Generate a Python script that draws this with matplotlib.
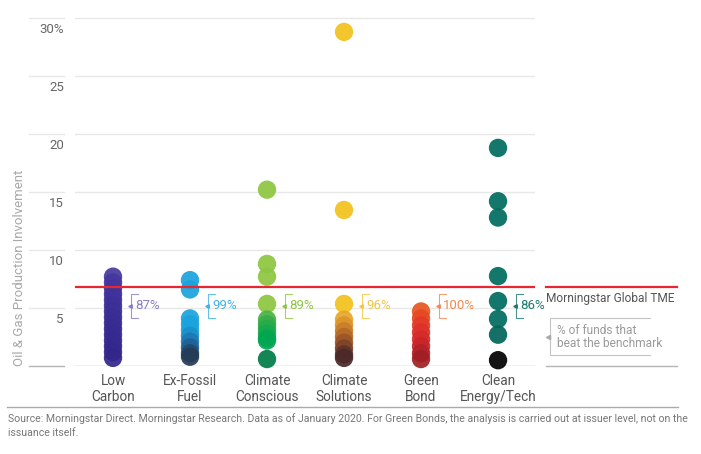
import matplotlib.pyplot as plt
import numpy as np
from matplotlib.colors import LinearSegmentedColormap, Normalize

plt.rcParams['font.family'] = ['Roboto', 'DejaVu Sans']

categories = ['Low\nCarbon', 'Ex-Fossil\nFuel', 'Climate\nConscious',
              'Climate\nSolutions', 'Green\nBond', 'Clean\nEnergy/Tech']

low_carbon = [7.7, 7.2, 6.7, 6.2, 5.7, 5.2, 4.7, 4.2, 3.7, 3.2, 2.7, 2.2, 1.7, 1.2, 0.7]
ex_fossil = [7.4, 6.6, 4.1, 3.6, 3.1, 2.6, 2.1, 1.6, 1.1, 0.8]
climate_conscious = [15.2, 8.8, 7.7, 5.35, 4.0, 3.6, 3.2, 2.8, 2.4, 2.2, 0.6]
climate_solutions = [28.8, 13.45, 5.35, 4.0, 3.5, 3.0, 2.5, 2.0, 1.5, 1.0, 0.7]
green_bond = [4.7, 4.1, 3.5, 2.9, 2.3, 1.7, 1.1, 0.6]
clean_energy = [18.8, 14.2, 12.8, 7.75, 5.6, 4.05, 2.7, 0.5]
series = [low_carbon, ex_fossil, climate_conscious, climate_solutions, green_bond, clean_energy]

pct_beat = ['87%', '99%', '89%', '96%', '100%', '86%']
benchmark = 6.8
yticks = [0, 5, 10, 15, 20, 25, 30]

# colour ramps, dark (low values) -> light (high values)
ramps = [
    (['#32268a', '#3a2e95', '#4538a0'], 0.5, 7.7),
    (['#263246', '#1d6aa6', '#1aa3dd', '#1aa3dd'], 0.6, 4.2),
    (['#007c46', '#00a652', '#3bae48', '#8dc63f'], 0.6, 5.3),
    (['#46262a', '#a65a27', '#e6a02a', '#f4c11c'], 0.6, 5.3),
    (['#a01f24', '#d2262a', '#e2362a', '#e8561f'], 0.6, 4.7),
    (['#000000', '#06342a', '#006b5e', '#006b5e'], 0.5, 4.0),
]
text_colors = ['#8a7cc4', '#3cb4e6', '#8dc63f', '#f4c63c', '#f08a50', '#1c7a70']

fig = plt.figure(figsize=(7.01, 4.54), dpi=100)
ax = fig.add_axes([75 / 701, 88 / 454, 460 / 701, 366 / 454])
ax.set_xlim(-0.4935, 5.48)
ax.set_ylim(0, 31.55)
ax.axis('off')

ytr = ax.get_yaxis_transform()
for v in yticks:
    c = '#b5b5b5' if v == 0 else '#e8e8e8'
    ax.plot([0, 1], [v, v], color=c, lw=1, transform=ytr, zorder=1)
    ax.plot([-0.1, -0.024], [v, v], color=c, lw=1, transform=ytr, clip_on=False)
    if v > 0:
        lab = f'{v}%' if v == 30 else str(v)
        ax.text(-0.024, v - 1.03, lab, transform=ytr, ha='right', va='center',
                fontsize=9.5, color='#666666')
ax.plot([1.024, 1.309], [0, 0], color='#b5b5b5', lw=1, transform=ytr, clip_on=False)

ax.text(-0.12, 0.0, 'Oil & Gas Production Involvement', transform=ytr, rotation=90,
        ha='center', va='bottom', fontsize=9.5, color='#a8a8a8')

# benchmark line
ax.plot([0, 1], [benchmark, benchmark], color='#e8262f', lw=1.6, transform=ytr, zorder=4)
ax.plot([1.024, 1.309], [benchmark, benchmark], color='#e8262f', lw=1.6,
        transform=ytr, clip_on=False)
ax.text(1.024, 5.78, 'Morningstar Global TME', transform=ytr, ha='left', va='center',
        fontsize=8.6, color='#555555')

# dots
for i, vals in enumerate(series):
    cols, lo, hi = ramps[i]
    cmap = LinearSegmentedColormap.from_list(f'r{i}', cols)
    norm = Normalize(lo, hi, clip=True)
    vals = np.array(vals)
    order = np.argsort(-vals)
    ax.scatter(np.full(len(vals), i), vals[order], s=175, c=cmap(norm(vals[order])),
               alpha=0.92, linewidths=0, zorder=3, clip_on=False)

# percentage brackets
yc, h = 5.2, 1.03
for i, p in enumerate(pct_beat):
    c = text_colors[i]
    bx = i + 0.235
    ax.plot([bx + 0.09, bx, bx, bx + 0.09], [yc + h, yc + h, yc - h, yc - h],
            color=c, lw=0.8, alpha=0.8, zorder=2)
    ax.plot([bx - 0.012], [yc], marker='<', ms=2.5, color=c, zorder=2)
    ax.text(bx + 0.05, yc, p, ha='left', va='center', fontsize=9.5, color=c, zorder=5)

# legend bracket
lx = 1.0326
ax.plot([1.25, lx, lx, 1.25], [4.14, 4.14, 0.95, 0.95], color='#c4c4c4', lw=0.8,
        transform=ytr, clip_on=False)
ax.plot([lx - 0.005], [2.5], marker='<', ms=3, color='#aaaaaa', transform=ytr, clip_on=False)
ax.text(1.048, 3.1, '% of funds that', transform=ytr, ha='left', va='center',
        fontsize=8.6, color='#9a9a9a')
ax.text(1.048, 1.9, 'beat the benchmark', transform=ytr, ha='left', va='center',
        fontsize=8.6, color='#9a9a9a')

# category labels
for i, cat in enumerate(categories):
    ax.annotate(cat, (i, 0), xytext=(0, -6), textcoords='offset points', ha='center',
                va='top', fontsize=9.8, color='#555555', linespacing=1.15,
                annotation_clip=False)

# footer
fig.add_artist(plt.Line2D([7 / 701, 678 / 701], [1 - 407 / 454, 1 - 407 / 454],
                          color='#aaaaaa', lw=1))
fig.text(8 / 701, 1 - 419 / 454,
         'Source: Morningstar Direct. Morningstar Research. Data as of January 2020. '
         'For Green Bonds, the analysis is carried out at issuer level, not on the',
         ha='left', va='center', fontsize=7.6, color='#777777')
fig.text(8 / 701, 1 - 433 / 454, 'issuance itself.', ha='left', va='center',
         fontsize=7.6, color='#777777')

fig.savefig('out.png', dpi=100)
